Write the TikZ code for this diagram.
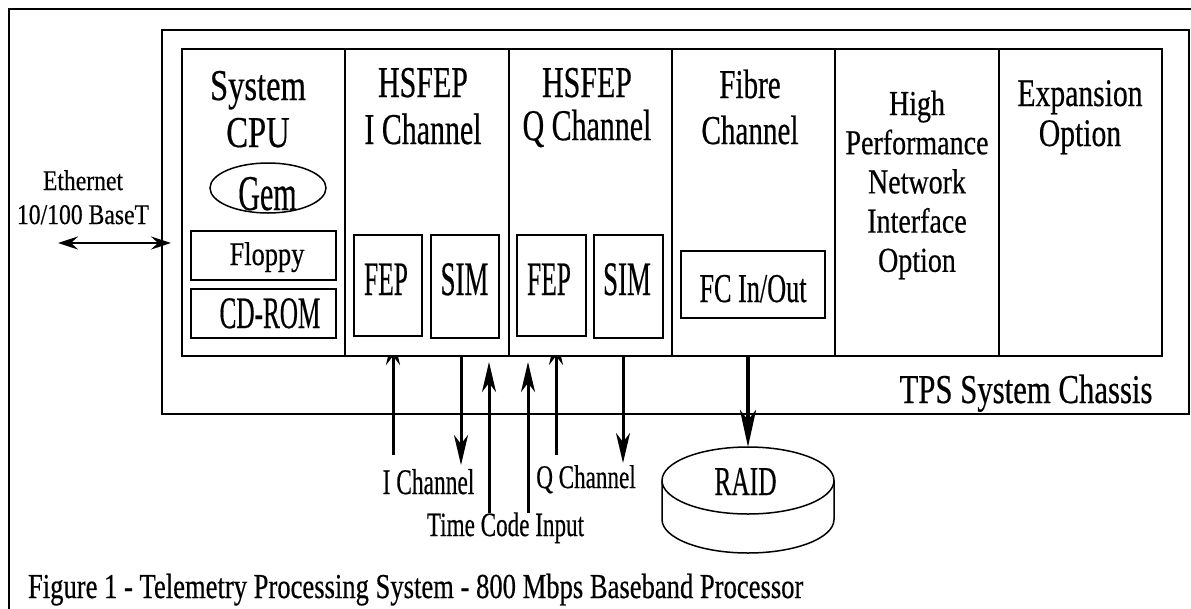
\documentclass[tikz,border=0pt]{standalone}
\usepackage{fontspec}
\setmainfont{Liberation Serif}[FakeBold=0.5]
\usepackage{graphicx}
\usetikzlibrary{arrows.meta,shapes.geometric}
\pgfdeclarelayer{back}
\pgfsetlayers{back,main}

% narrow text block: \tx{horizontal scale}{size}{leading}{lines}
\newcommand\tx[4]{\scalebox{#1}[1]{\fontsize{#2}{#3}\selectfont\begin{tabular}[t]{@{}c@{}}#4\end{tabular}}}

\begin{document}
\begin{tikzpicture}[x=1pt,y=-1pt,
  lbl/.style={inner sep=0pt, outer sep=0pt, anchor=base},
  frame/.style={draw, line width=2.5pt, inner sep=0pt, outer sep=0pt},
  slot/.style={draw, line width=1.7pt, fill=white, inner sep=0pt, outer sep=0pt,
               minimum width=163.33pt, minimum height=307pt},
  part/.style={draw, line width=1.5pt, inner sep=0pt, outer sep=0pt},
  rim/.style={line width=1.5pt},
  sig/.style={line width=3pt, -{Stealth[length=30pt,width=14pt,inset=9pt]}},
  bigsig/.style={line width=4.3pt, -{Stealth[length=37pt,width=16pt,inset=10pt]}},
  lan/.style={line width=2.5pt, {Stealth[length=20pt,width=13pt,inset=7pt]}-{Stealth[length=20pt,width=13pt,inset=7pt]}}
]
\useasboundingbox (0,0) rectangle (1191,608);
\clip (0,0) rectangle (1191,608);
\begin{pgfonlayer}{back}
  \fill[white] (0,0) rectangle (1191,608);
\end{pgfonlayer}

% page frame and chassis
\node[frame, minimum width=1192pt, minimum height=612pt] (page) at (605,315) {};
\node[frame, line width=2.7pt, minimum width=1027pt, minimum height=384pt] (chassis) at (675.5,222) {};

% card slots
\node[slot] (cpu) at (263.67,202.5) {};
\node[slot] (hsi) at (427,202.5) {};
\node[slot] (hsq) at (590.33,202.5) {};
\node[slot] (fib) at (753.67,202.5) {};
\node[slot] (hpn) at (917,202.5) {};
\node[slot] (exp) at (1080.33,202.5) {};

% boards inside the slots
\node[part, ellipse, minimum width=116pt, minimum height=50pt] (gem) at (268,188) {};
\node[part, minimum width=145pt, minimum height=49pt] (floppy) at (263.5,255.5) {};
\node[part, minimum width=145pt, minimum height=49pt] (cdrom) at (263.5,313.5) {};
\node[part, minimum width=68pt, minimum height=101pt] (fepi) at (388,285.5) {};
\node[part, minimum width=68pt, minimum height=103pt] (simi) at (465,286.5) {};
\node[part, minimum width=69pt, minimum height=101pt] (fepq) at (551.5,285.5) {};
\node[part, minimum width=69pt, minimum height=103pt] (simq) at (628.5,286.5) {};
\node[part, minimum width=144pt, minimum height=67pt] (fcio) at (753,284.5) {};

% RAID cylinder
\node[part, ellipse, minimum width=172pt, minimum height=67pt] (raid) at (748,480.5) {};
\draw[rim] (raid.west) -- ++(0,39) arc[start angle=180, end angle=0, x radius=86, y radius=33.5] -- (raid.east);

% labels
\node[lbl] (tcpu) at (258,100) {\tx{0.74}{44}{47}{System\\CPU}};
\node[lbl] (thsi) at (423,97) {\tx{0.68}{44}{47}{HSFEP\\I Channel}};
\node[lbl] (thsq) at (587,97) {\tx{0.68}{44}{42}{HSFEP\\Q Channel}};
\node[lbl] (tfib) at (750,98) {\tx{0.71}{41}{46}{Fibre\\Channel}};
\node[lbl] (thpn) at (917,115) {\tx{0.8}{35}{39.2}{High\\Performance\\Network\\Interface\\Option}};
\node[lbl] (texp) at (1080,106) {\tx{0.76}{39}{40}{Expansion\\Option}};
\node[lbl] (ttps) at (1026,403) {\tx{0.75}{41}{41}{TPS System Chassis}};
\node[lbl] (teth) at (83,190) {\tx{0.83}{28.5}{34}{Ethernet\\10/100 BaseT}};
\node[lbl] (tflop) at (267,265) {\tx{0.8}{33}{33}{Floppy}};
\node[lbl] (tcd) at (270,328) {\tx{0.56}{45}{45}{CD-ROM}};
\node[lbl] (tgem) at (267.5,210) {\tx{0.6}{50}{50}{Gem}};
\node[lbl] (tfepi) at (386,295) {\tx{0.53}{48}{48}{FEP}};
\node[lbl] (tsimi) at (464.5,295) {\tx{0.56}{48}{48}{SIM}};
\node[lbl] (tfepq) at (549,295) {\tx{0.53}{48}{48}{FEP}};
\node[lbl] (tsimq) at (627,295) {\tx{0.56}{48}{48}{SIM}};
\node[lbl] (tfc) at (753,302) {\tx{0.64}{41}{41}{FC In/Out}};
\node[lbl] (traid) at (745.5,495) {\tx{0.62}{41}{41}{RAID}};
\node[lbl] (tic) at (428.5,494) {\tx{0.65}{36}{36}{I Channel}};
\node[lbl] (tqc) at (586,488) {\tx{0.7}{33}{33}{Q Channel}};
\node[lbl] (ttc) at (505.5,536) {\tx{0.68}{34}{34}{Time Code Input}};
\node[lbl, anchor=base west] (cap) at (28,598) {\tx{0.76}{35}{35}{Figure 1 - Telemetry Processing System - 800 Mbps Baseband Processor}};

% signal end points
\coordinate (eth) at (58,243);
\coordinate (iIn) at (393,455);
\coordinate (iOut) at (461,465);
\coordinate (tcA) at (489,513);
\coordinate (tcB) at (528,513);
\coordinate (qIn) at (556,455);
\coordinate (qOut) at (623,463);

% inputs whose heads run under the slot cards
\begin{pgfonlayer}{back}
  \draw[sig, shorten >=-21pt] (iIn) -- (iIn |- hsi.south);
  \draw[sig, shorten >=-21pt] (qIn) -- (qIn |- hsq.south);
\end{pgfonlayer}

\draw[sig] (iOut |- hsi.south) -- (iOut);
\draw[sig, shorten >=6pt] (tcA) -- (tcA |- hsi.south);
\draw[sig, shorten >=6pt] (tcB) -- (tcB |- hsq.south);
\draw[sig] (qOut |- hsq.south) -- (qOut);
\draw[bigsig] (raid.north |- fib.south) -- (raid.north);
\draw[lan, shorten >=-9pt] (eth) -- (eth -| chassis.west);
\end{tikzpicture}
\end{document}
